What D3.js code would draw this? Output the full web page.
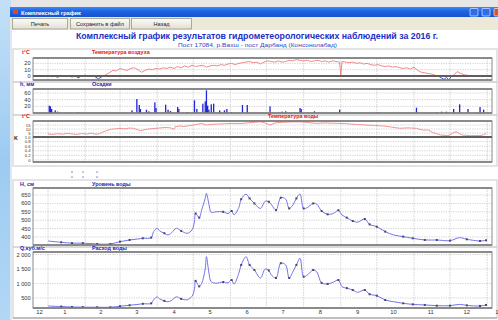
<!DOCTYPE html>
<html><head><meta charset="utf-8">
<script src="https://cdn.jsdelivr.net/npm/d3@7"></script>
<style>
body{margin:0;overflow:hidden;background:#fff}
svg{display:block}
text{font-family:"Liberation Sans",Arial,sans-serif}
</style>
</head><body>
<svg id="c" width="498" height="320"></svg>
<script>
// ---- observation series (day 0 = 1 Jan 2016) ----
const airDays   = [0,3,5,8,11,14,17,20,23,25,28,31,34,37,40,42,45,48,51,54,57,60,63,66,69,72,75,78,81,84,87,90,93,96,99,102,105,108,111,114,117,120,123,126,129,132,135,138,141,144,147,150,153,156,159,162,165,168,171,174,177,180,183,186,189,192,195,198,201,204,207,210,213,216,219,222,225,228,231,234,237,240,243,244,245,248,251,254,257,260,263,266,269,272,275,278,281,284,287,290,293,296,299,302,305,308,311,314,317,320,323,326,328,330,332,334,336,339,341,344,347,350,353,356,359,362,365];
const airTemp   = [1,-1,0.5,-2,1,-0.5,0.5,-1.5,0.5,-3,0,1.5,-0.5,1,-2,-4.5,-1,2,5,9,8,12,10,9,12,13,10,6,9,11,10,12,11,13,12,14,12,15,13,16,14,17,15,16,17,14,16,17,16,18,17,19,20,18,20,21,22,23,21,22,19,22,24,23,22,24,22,23,25,24,26,25,24,25,23,24,25,23,24,22,24,23,22,0,23,22,21,22,20,21,19,20,18,17,18,16,15,16,14,15,13,12,13,11,14,9,6,5,4,3,1,-1,-3,-5.5,-2,-6,-1,3,7,4,2,1,0,-1,0.5,-1,1];

const precipDays = [1,2,3,6,8,25,41,70,74,76,77,82,84,89,90,98,100,102,108,109,116,122,124,129,131,132,133,134,136,138,143,147,149,153,162,166,185,195,198,210,211,222,243,275,307,324,328,332,338,343,350,360,363];
const precipMm   = [22,20,12,8,4,3,1,8,42,24,12,10,5,32,15,25,10,6,18,12,3,38,12,28,35,68,22,10,26,28,8,8,12,3,24,24,20,4,5,15,12,5,10,3,16,3,4,4,12,26,12,18,10];

const waterDays = [0,4,8,12,16,20,24,28,32,36,40,43,46,49,52,56,60,64,68,71,74,77,80,82,86,91,95,99,102,105,106,110,114,118,121,125,128,132,136,142,148,155,161,168,173,177,181,185,190,196,203,210,217,224,231,238,245,252,258,265,272,280,286,293,300,307,310,313,317,321,324,327,333,335,337,340,342,345,349,352,356,360,363,365];
const waterTemp = [3.8,3.2,4.2,3.5,4.6,3.8,3.2,4.4,3.6,4.8,3.4,4.2,6.6,8.0,9.6,10.2,10.9,10.2,11.2,10.9,9.5,7.9,9.0,9.6,10.4,11.0,11.6,12.0,11.4,9.6,13.0,13.7,13.2,14.4,15.0,16.0,17.0,15.0,15.8,16.2,16.6,17.0,16.8,17.9,18.5,19.0,17.5,15.0,17.9,18.4,18.8,19.0,18.0,17.0,17.6,17.2,17.0,16.2,15.6,15.0,14.4,13.7,12.4,10.9,11.4,10.9,9.5,8.7,8.7,5.4,4.0,2.5,1.7,2.5,4.6,6.6,5.0,2.5,2.0,1.7,1.8,1.7,2.8,4.6];

const gaugeDays  = [0,11,20,29,41,52,60,68,75,79,86,88,91,93,97,100,103,107,111,116,120,122,123,126,128,131,132,134,136,140,146,150,153,155,159,161,165,168,172,177,181,184,186,190,194,198,201,204,207,210,213,216,221,224,228,233,238,242,245,249,254,258,264,268,274,281,288,296,304,314,324,335,343,349,360,365];
const levelCm    = [376,368,363,363,358,358,372,382,388,392,396,432,452,436,422,412,425,452,436,422,442,490,540,515,560,630,660,600,547,550,550,540,555,532,575,625,655,630,600,570,613,610,595,560,634,626,570,590,630,656,570,575,600,595,555,535,541,559,531,515,495,488,507,475,461,432,412,402,392,382,382,378,396,386,376,380];
const dischargeM3 = [224,205,190,185,180,180,215,250,280,300,315,440,540,470,400,370,420,540,470,440,560,800,1090,900,1000,1500,1925,1400,1060,1010,1050,1020,1120,980,1350,1640,1925,1640,1465,1190,1500,1450,1300,1190,1700,1640,1190,1400,1640,1870,1236,1290,1466,1400,1020,985,1050,1120,890,840,775,697,776,630,580,431,372,316,280,260,235,235,280,245,225,260];
const markedDays = [11,20,29,41,52,60,68,79,86,97,111,123,126,146,153,161,168,172,184,190,194,201,207,213,221,228,233,242,249,254,264,268,274,281,296,304,314,324,335,349,360,365];

// ---- axis labels ----
const monthLabels = ["12","1","2","3","4","5","6","7","8","9","10","11","12","1"];
const monthLabelDays = [-7,14,44,74,105,135,166,196,227,258,288,319,349,374];
const airTicks = [0,10,20];
const precipTicks = [20,40,60];
const waterTicks = [5,10,15];
const kTicks = [0,0.2,0.4,0.6,0.8,1.0];
const levelTicks = [400,450,500,550,600,650];
const dischargeTicks = [500,1000,1500,2000];

const svg = d3.select("#c");
const year0 = new Date(Date.UTC(2016,0,1));
const monthStarts = d3.utcMonth.range(year0, new Date(Date.UTC(2017,0,2)))
  .map(d => d3.utcDay.count(year0, d));

const x = d3.scaleLinear().domain([-12.5, 370]).range([33, 492]);
const X0 = 33, X1 = 492;

// ---- window chrome ----
const defs = svg.append("defs");
const desk = defs.append("linearGradient").attr("id","desk").attr("x1",0).attr("y1",0).attr("x2",0).attr("y2",1);
desk.append("stop").attr("offset",0).attr("stop-color","#c4e0f7");
desk.append("stop").attr("offset",0.5).attr("stop-color","#9ccbf1");
desk.append("stop").attr("offset",1).attr("stop-color","#b2d7f5");
const tb = defs.append("linearGradient").attr("id","tb").attr("x1",0).attr("y1",0).attr("x2",0).attr("y2",1);
tb.append("stop").attr("offset",0).attr("stop-color","#3d8bf5");
tb.append("stop").attr("offset",0.4).attr("stop-color","#1f63e2");
tb.append("stop").attr("offset",1).attr("stop-color","#1553cf");
const btn = defs.append("linearGradient").attr("id","btn").attr("x1",0).attr("y1",0).attr("x2",0).attr("y2",1);
btn.append("stop").attr("offset",0).attr("stop-color","#fbfbf8");
btn.append("stop").attr("offset",1).attr("stop-color","#e3e0d2");

svg.append("rect").attr("x",0).attr("y",0).attr("width",498).attr("height",320).attr("fill","#fff");
svg.append("rect").attr("x",0).attr("y",0).attr("width",11).attr("height",320).attr("fill","url(#desk)");
svg.append("rect").attr("x",11).attr("y",0).attr("width",487).attr("height",8).attr("fill","#e6e6e6");
svg.append("rect").attr("x",10).attr("y",7).attr("width",488).attr("height",10).attr("fill","url(#tb)");
svg.append("rect").attr("x",13).attr("y",9).attr("width",5).attr("height",5).attr("fill","#d84a2a");
svg.append("text").attr("x",21).attr("y",14.5).attr("font-size",5.6).attr("font-weight","bold")
  .attr("fill","#fff").text("Комплексный график");
[[470,"#2d6ee8"],[482,"#2d6ee8"],[494,"#d9532c"]].forEach(([bx,c]) => {
  svg.append("rect").attr("x",bx).attr("y",8.5).attr("width",8).attr("height",7.5).attr("rx",1)
    .attr("fill",c).attr("stroke","#fff").attr("stroke-width",0.6);
});
svg.append("rect").attr("x",10).attr("y",17).attr("width",488).attr("height",13).attr("fill","#ece9d8");
[[12,56,"Печать"],[70,60,"Сохранить в файл"],[131,61,"Назад"]].forEach(([bx,w,t]) => {
  svg.append("rect").attr("x",bx+0.5).attr("y",18.5).attr("width",w-1).attr("height",10.5)
    .attr("fill","url(#btn)").attr("stroke","#9a9a8e").attr("stroke-width",0.8);
  svg.append("text").attr("x",bx+w/2).attr("y",26).attr("text-anchor","middle")
    .attr("font-size",5.6).attr("fill","#222").text(t);
});
svg.append("rect").attr("x",10).attr("y",30).attr("width",2).attr("height",290).attr("fill","#dfe8f4");

// ---- headings ----
svg.append("text").attr("x",257).attr("y",38.5).attr("text-anchor","middle")
  .attr("font-size",9.6).attr("font-weight","bold").attr("fill","#1d2fc4")
  .attr("textLength",362).attr("lengthAdjust","spacingAndGlyphs")
  .text("Комплексный график результатов гидрометеорологических наблюдений за 2016 г.");
svg.append("text").attr("x",257.5).attr("y",46.5).attr("text-anchor","middle")
  .attr("font-size",5.8).attr("fill","#3346c6")
  .attr("textLength",159).attr("lengthAdjust","spacingAndGlyphs")
  .text("Пост 17084,  р.Вахш - пост Дарбанд (Консонолабад)");

// ---- panel boxes ----
[[49,82],[82,115],[115,166],[180,247],[247,318]].forEach(([a,b]) => {
  svg.append("rect").attr("x",13).attr("y",a).attr("width",484).attr("height",b-a)
    .attr("fill","none").attr("stroke","#d2d2d2").attr("stroke-width",1.2);
});

function label(xp, yp, t, color, size) {
  svg.append("text").attr("x",xp).attr("y",yp)
    .attr("font-size",size||5.4).attr("font-weight","bold")
    .attr("fill",color).text(t);
}
const RED = "#e5151a", BLUE = "#1b1fb8";

function frame(top, bottom, g) {
  // month gridlines
  g.selectAll(null).data(monthStarts).join("line")
    .attr("x1",d=>x(d)).attr("x2",d=>x(d)).attr("y1",top).attr("y2",bottom)
    .attr("stroke","#c9c9c9").attr("stroke-width",0.8).attr("stroke-dasharray","1.5,1");
  return g;
}
function hgrid(g, ys) {
  g.selectAll(null).data(ys).join("line")
    .attr("x1",X0).attr("x2",X1).attr("y1",d=>d).attr("y2",d=>d)
    .attr("stroke","#c4c4c4").attr("stroke-width",0.8).attr("stroke-dasharray","1.2,1.2");
}
function border(g, top, bottom) {
  g.append("rect").attr("x",X0).attr("y",top).attr("width",X1-X0).attr("height",bottom-top)
    .attr("fill","none").attr("stroke","#8a8a8a").attr("stroke-width",1);
  g.append("line").attr("x1",X0).attr("x2",X1).attr("y1",top).attr("y2",top).attr("stroke","#777").attr("stroke-width",1.4);
  g.append("line").attr("x1",X0).attr("x2",X1).attr("y1",bottom).attr("y2",bottom).attr("stroke","#777").attr("stroke-width",1.4);
}
function yLabels(ticks, scale, fmt, size) {
  const fs = size || 5.6;
  svg.append("g").selectAll("text").data(ticks).join("text")
    .attr("x",30.5).attr("y",d=>scale(d)+fs*0.36).attr("text-anchor","end")
    .attr("font-size",fs).attr("fill","#333").text(fmt);
}

// ---- 1: air temperature ----
const yAir = d3.scaleLinear().domain([-6.3, 28.5]).range([80, 58]);
{
  const g = frame(58, 80, svg.append("g"));
  hgrid(g, airTicks.filter(t=>t!==0).map(yAir));
  const air = airDays.map((d,i)=>[d, airTemp[i]]);
  const line = d3.line().x(d=>x(d[0])).y(d=>yAir(d[1]));
  defs.append("clipPath").attr("id","above").append("rect")
    .attr("x",X0).attr("y",58).attr("width",X1-X0).attr("height",yAir(0)-58);
  defs.append("clipPath").attr("id","below").append("rect")
    .attr("x",X0).attr("y",yAir(0)).attr("width",X1-X0).attr("height",80-yAir(0)+6);
  g.append("path").attr("d",line(air)).attr("fill","none").attr("stroke","#ee7d7d")
    .attr("stroke-width",0.9).attr("clip-path","url(#above)");
  g.append("path").attr("d",line(air)).attr("fill","none").attr("stroke","#2c3fd8")
    .attr("stroke-width",0.9).attr("clip-path","url(#below)");
  border(g, 58, 80);
  g.append("line").attr("x1",X0).attr("x2",X1).attr("y1",yAir(0)).attr("y2",yAir(0))
    .attr("stroke","#5e5e5e").attr("stroke-width",1.8);
  yLabels(airTicks, yAir, d=>d);
  label(22,53.5,"t°C",RED);
  label(92,53.5,"Температура воздуха",RED);
}

// ---- 2: precipitation ----
const yPr = d3.scaleLinear().domain([0, 72]).range([113, 89]);
{
  const g = frame(89, 113, svg.append("g"));
  hgrid(g, precipTicks.map(yPr));
  g.selectAll("rect.bar").data(precipDays.map((d,i)=>[d, precipMm[i]])).join("rect")
    .attr("x",d=>x(d[0])-0.6).attr("width",1.3)
    .attr("y",d=>yPr(d[1])).attr("height",d=>yPr(0)-yPr(d[1]))
    .attr("fill","#2323dc");
  border(g, 89, 113);
  yLabels(precipTicks, yPr, d=>d);
  label(20,86,"h, мм",BLUE);
  label(92,86,"Осадки",BLUE);
}

// ---- 3: water temperature and coefficient K ----
const yWt = d3.scaleLinear().domain([0, 20]).range([137, 121]);
const yK = d3.scaleLinear().domain([0, 1]).range([160, 137]);
{
  const g = frame(121, 162, svg.append("g"));
  hgrid(g, waterTicks.map(yWt).concat(kTicks.filter(t=>t<1).map(yK)));
  const line = d3.line().x(d=>x(d[0])).y(d=>yWt(d[1]));
  g.append("path").attr("d",line(waterDays.map((d,i)=>[d, waterTemp[i]])))
    .attr("fill","none").attr("stroke","#ee8a8a").attr("stroke-width",0.9);
  border(g, 121, 162);
  g.append("line").attr("x1",X0).attr("x2",X1).attr("y1",yWt(0)).attr("y2",yWt(0))
    .attr("stroke","#5e5e5e").attr("stroke-width",1.8);
  yLabels(waterTicks, yWt, d=>d, 4.2);
  yLabels(kTicks, yK, d=>d===0?"0":d3.format(".1f")(d), 4.2);
  label(22,118,"t°C",RED);
  label(268,118,"Температура воды",RED);
  label(14,139.5,"K","#222",5.4);
  // small key marks under the panel
  [72,83,97].forEach(px => [171.5,176.5].forEach(py =>
    svg.append("rect").attr("x",px-1).attr("y",py).attr("width",2).attr("height",1.2).attr("fill","#9a9ae6")));
}

// ---- 4: water level ----
const yH = d3.scaleLinear().domain([352, 692]).range([245, 188]);
const lvl = gaugeDays.map((d,i)=>[d, levelCm[i]]);
{
  const g = frame(188, 245, svg.append("g"));
  hgrid(g, levelTicks.map(yH));
  const line = d3.line().curve(d3.curveCatmullRom.alpha(0.5)).x(d=>x(d[0])).y(d=>yH(d[1]));
  g.append("path").attr("d",line(lvl)).attr("fill","none").attr("stroke","#7373ee").attr("stroke-width",1);
  g.selectAll("rect.m").data(lvl.filter(d=>markedDays.includes(d[0]))).join("rect")
    .attr("x",d=>x(d[0])-1).attr("y",d=>yH(d[1])-1).attr("width",2).attr("height",2).attr("fill","#4a4a5a");
  border(g, 188, 245);
  yLabels(levelTicks, yH, d=>d);
  label(20,186,"H, см",BLUE);
  label(92,186,"Уровень воды",BLUE);
}

// ---- 5: discharge ----
const yQ = d3.scaleLinear().domain([155, 2086]).range([308, 252]);
const dis = gaugeDays.map((d,i)=>[d, dischargeM3[i]]);
{
  const g = frame(252, 308, svg.append("g"));
  hgrid(g, dischargeTicks.map(yQ));
  const line = d3.line().curve(d3.curveCatmullRom.alpha(0.5)).x(d=>x(d[0])).y(d=>yQ(d[1]));
  g.append("path").attr("d",line(dis)).attr("fill","none").attr("stroke","#7373ee").attr("stroke-width",1);
  g.selectAll("rect.m").data(dis.filter(d=>markedDays.includes(d[0]))).join("rect")
    .attr("x",d=>x(d[0])-1).attr("y",d=>yQ(d[1])-1).attr("width",2).attr("height",2).attr("fill","#4a4a5a");
  border(g, 252, 308);
  yLabels(dischargeTicks, yQ, d=>d3.format(",")(d).replace(",", " "));
  label(20,250,"Q,куб.м/с",BLUE);
  label(92,250,"Расход воды",BLUE);
}

// ---- month axis ----
svg.append("g").selectAll("text").data(monthLabels).join("text")
  .attr("x",(d,i)=>x(monthLabelDays[i])).attr("y",314).attr("text-anchor","middle")
  .attr("font-size",5.8).attr("fill","#333").text(d=>d);
svg.append("line").attr("x1",13).attr("x2",497).attr("y1",318).attr("y2",318)
  .attr("stroke","#9a9a9a").attr("stroke-width",1.2);
</script>
</body></html>
